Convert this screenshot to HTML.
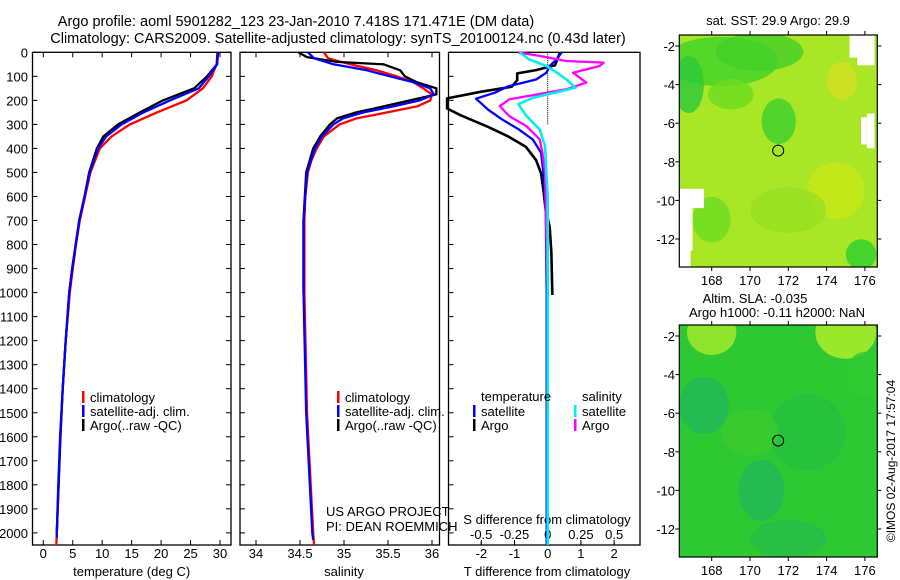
<!DOCTYPE html>
<html><head><meta charset="utf-8"><style>
body{margin:0;background:#fff;}
svg{display:block;font-family:"Liberation Sans",sans-serif;font-size:13px;}
</style></head><body>
<svg id="fig" width="900" height="580" viewBox="0 0 900 580" xmlns="http://www.w3.org/2000/svg">
<text x="296" y="26" text-anchor="middle" style="font-size:14.5px">Argo profile: aoml 5901282_123 23-Jan-2010 7.418S 171.471E (DM data)</text>
<text x="338" y="43" text-anchor="middle" style="font-size:14.5px">Climatology: CARS2009. Satellite-adjusted climatology: synTS_20100124.nc (0.43d later)</text>
<g id="maps"></g>
<g id="plots"></g>
</svg>
<script>
// ---------- data ----------
const depthTicks=[0,100,200,300,400,500,600,700,800,900,1000,1100,1200,1300,1400,1500,1600,1700,1800,1900,2000];
const tempTicks=[0,5,10,15,20,25,30];
const salTicks=[34,34.5,35,35.5,36];
const tdTicks=[-2,-1,0,1,2];
const sdTicks=[-0.5,-0.25,0,0.25,0.5];
const sdTickLabels=["-0.5","-0.25","0","0.25","0.5"];
// temperature
const tClimDepth=[0,50,100,150,200,250,300,350,400,500,600,700,800,900,1000,1200,1400,1600,1800,2000,2050];
const tClim=[29.6,29.4,28.6,27.1,24.3,19.3,14.7,11.6,9.6,8.0,7.1,6.2,5.55,5.0,4.5,3.8,3.3,2.9,2.6,2.3,2.2];
const tArgoDepth=[0,50,100,150,200,250,300,350,400,500,600,700,800,900,1000,1200,1400,1600,1800,2000];
const tArgo=[29.6,29.5,27.8,25.6,20.3,16.4,12.7,10.2,9.1,7.8,7.0,6.1,5.5,4.9,4.4,3.8,3.3,2.9,2.6,2.3];
const tSatDepth=[0,50,100,150,200,250,300,350,400,500,600,700,800,900,1000,1200,1400,1600,1800,2000,2020];
const tSat=[29.7,29.5,28.1,26.4,21.5,17.0,13.3,10.7,9.3,7.9,7.0,6.1,5.5,4.9,4.4,3.8,3.3,2.85,2.55,2.3,2.3];
// salinity
const sClimDepth=[0,25,50,75,100,125,150,175,200,225,250,275,300,350,400,450,500,600,700,1000,1500,2000,2050];
const sClim=[34.77,34.82,35.07,35.37,35.6,35.79,35.9,36.0,35.98,35.83,35.49,35.14,34.95,34.77,34.69,34.63,34.59,34.56,34.55,34.55,34.58,34.65,34.66];
const sArgoDepth=[0,20,40,50,75,100,125,150,175,200,225,250,275,300,350,400,500,700,1000];
const sArgo=[34.48,34.58,34.92,35.45,35.64,35.69,35.83,36.05,36.05,35.75,35.45,35.14,34.92,34.84,34.73,34.65,34.57,34.54,34.54];
const sSatDepth=[0,25,50,75,100,125,150,175,200,225,250,275,300,350,400,500,700,1000,1500,2000,2030];
const sSat=[34.59,34.66,34.88,35.26,35.52,35.79,35.98,36.02,35.86,35.56,35.22,34.99,34.88,34.75,34.67,34.58,34.54,34.54,34.57,34.64,34.65];
// T differences
const tdArgoDepth=[1,54,74,88,116,143,164,192,234,262,310,351,393,449,504,574,657,726,837,1003,1010];
const tdArgo=[0.37,0.22,-0.35,-0.92,-0.92,-1.08,-2.0,-3.03,-3.03,-2.62,-1.8,-1.18,-0.66,-0.35,-0.2,-0.13,-0.06,0.06,0.11,0.14,0.14];
const tdSatDepth=[1,29,57,85,113,141,168,193,238,279,321,363,418,501,640,1000,2050];
const tdSat=[0.42,0.27,0.06,-0.04,-0.35,-1.18,-1.59,-2.16,-1.8,-1.38,-0.87,-0.45,-0.2,-0.13,-0.06,-0.03,-0.03];
// S differences
const sdArgoDepth=[1,15,36,43,57,85,126,154,196,224,265,307,362,418,501,1000,2050];
const sdArgo=[-0.22,-0.06,0.14,0.42,0.39,0.19,0.29,0.14,-0.29,-0.36,-0.29,-0.16,-0.06,-0.04,-0.02,0.0,0.0];
const sdSatDepth=[1,29,57,85,113,147,161,189,216,265,321,390,600,2050];
const sdSat=[-0.21,-0.14,-0.01,0.07,0.14,0.21,0.11,-0.11,-0.22,-0.16,-0.06,-0.02,0.0,0.0];
// map axes
const lonTicks=[168,170,172,174,176];
const latTicks=[-2,-4,-6,-8,-10,-12];
const argoLon=171.471, argoLat=-7.418;

// ---------- helpers ----------
const NS="http://www.w3.org/2000/svg";
function mk(tag,attrs,parent){const e=document.createElementNS(NS,tag);for(const k in attrs)e.setAttribute(k,attrs[k]);parent.appendChild(e);return e;}
const plots=document.getElementById('plots');
const maps=document.getElementById('maps');
const Y=d=>52.3+d*0.2403;
const panels=[
 {x0:32.5,x1:231,f:v=>43.3+v*5.89,ticks:tempTicks,labels:tempTicks.map(String),title:"temperature (deg C)",name:"temperature-panel"},
 {x0:240,x1:439.5,f:v=>256+(v-34)*88,ticks:salTicks,labels:salTicks.map(String),title:"salinity",name:"salinity-panel"},
 {x0:448.5,x1:640,f:v=>547.7+v*33.2,ticks:tdTicks,labels:tdTicks.map(String),title:"T difference from climatology",name:"difference-panel"}
];
const SD=v=>547.7+v*133;
const yb=545;
panels.forEach((p,i)=>{
  const g=mk('g',{},plots);
  
  
  const r=mk('rect',{x:p.x0,y:Y(0),width:p.x1-p.x0,height:yb-Y(0),fill:'none',stroke:'#000','stroke-width':1.3},g);
  
  
  p.ticks.forEach((t,j)=>{
    const x=p.f(t);
    mk('line',{x1:x,x2:x,y1:yb,y2:yb-5,stroke:'#000'},g);
    if(i<2) mk('line',{x1:x,x2:x,y1:Y(0),y2:Y(0)+5,stroke:'#000'},g);
    const tx=mk('text',{x:x,y:558,'text-anchor':'middle'},g);
    tx.textContent=p.labels[j];
    
    
  });
  const ti=mk('text',{x:(i==2?547:p.f(i==0?15:35)),y:576,'text-anchor':'middle'},g);
  ti.textContent=p.title;
  
  
  depthTicks.forEach(d=>{
    mk('line',{x1:p.x0,x2:p.x0+5,y1:Y(d),y2:Y(d),stroke:'#000'},g);
    if(i==0) mk('line',{x1:p.x1,x2:p.x1-5,y1:Y(d),y2:Y(d),stroke:'#000'},g);
  });
});
depthTicks.forEach(d=>{
  const t=mk('text',{x:28,y:Y(d)+5,'text-anchor':'end'},plots);
  t.textContent=String(d);
  
  
});
// S diff axis
sdTicks.forEach((s,j)=>{
  mk('line',{x1:SD(s),x2:SD(s),y1:yb,y2:yb-3,stroke:'#000'},plots);
  const t=mk('text',{x:SD(s),y:539,'text-anchor':'middle'},plots);
  t.textContent=sdTickLabels[j];
  
  
});
const sdt=mk('text',{x:547,y:524,'text-anchor':'middle'},plots);
sdt.textContent="S difference from climatology";


// zero dotted line
for(let d=0;d<300;d+=8){mk('line',{x1:547.7,x2:547.7,y1:Y(0)+d*0.24,y2:Y(0)+d*0.24+1,stroke:'#000'},plots);}
function series(depths,vals,fx,color,name,w){
  const pts=depths.map((d,k)=>fx(vals[k]).toFixed(1)+','+Y(d).toFixed(1)).join(' ');
  const pl=mk('polyline',{points:pts,fill:'none',stroke:color,'stroke-width':w||2.3,'stroke-linejoin':'round'},plots);
  
  
}
const fT=panels[0].f,fS=panels[1].f,fD=panels[2].f;
series(tClimDepth,tClim,fT,'#f00','temperature-climatology-line');
series(tArgoDepth,tArgo,fT,'#000','temperature-argo-line');
series(tSatDepth,tSat,fT,'#00f','temperature-satellite-line');
series(sClimDepth,sClim,fS,'#f00','salinity-climatology-line');
series(sArgoDepth,sArgo,fS,'#000','salinity-argo-line');
series(sSatDepth,sSat,fS,'#00f','salinity-satellite-line');
series(tdArgoDepth,tdArgo,fD,'#000','t-diff-argo-line',2.6);
series(tdSatDepth,tdSat,fD,'#00f','t-diff-satellite-line');
series(sdArgoDepth,sdArgo,SD,'#f0f','s-diff-argo-line');
series(sdSatDepth,sdSat,SD,'#0ee','s-diff-satellite-line',2.6);
// legends
function legend(x,y,color,label,name){
  const b=mk('rect',{x:x,y:y-11,width:2.5,height:12,fill:color},plots);
  
  
  const t=mk('text',{x:x+8,y:y},plots);
  t.textContent=label;
  
  
}
[[82,'temp'],[337,'sal']].forEach(([lx,n])=>{
  legend(lx,402,'#f00','climatology',n+'-legend-climatology');
  legend(lx,416,'#00f','satellite-adj. clim.',n+'-legend-satellite');
  legend(lx,430,'#000','Argo(..raw -QC)',n+'-legend-argo');
});
const lt=mk('text',{x:481,y:401},plots);lt.textContent='temperature';


const ls=mk('text',{x:582,y:401},plots);ls.textContent='salinity';


legend(473,416,'#00f','satellite','legend-t-satellite');
legend(473,430,'#000','Argo','legend-t-argo');
legend(574,416,'#0ee','satellite','legend-s-satellite');
legend(574,430,'#f0f','Argo','legend-s-argo');
const c1=mk('text',{x:326,y:516},plots);c1.textContent='US ARGO PROJECT';


const c2=mk('text',{x:326,y:531},plots);c2.textContent='PI: DEAN ROEMMICH';



// ---------- maps ----------
const MX=lon=>711.7+(lon-168)*19.15;
function drawMap(top,name,title1,title2,kind){
  const MY=lat=>top+11+(-2-lat)*19.3;
  const g=mk('g',{},maps);
  
  
  const x0=679.3,x1=877.3,y0=top,y1=top+232;
  const defs=mk('defs',{},g);
  const clip=mk('clipPath',{id:'c'+kind},defs);
  mk('rect',{x:x0,y:y0,width:x1-x0,height:y1-y0},clip);
  const inner=mk('g',{'clip-path':'url(#c'+kind+')'},g);
  if(kind=='sst'){
    mk('rect',{x:x0,y:y0,width:x1-x0,height:y1-y0,fill:'#a8e626'},inner);
    const blobs=[[168.5,-2.8,3,1.3,'#3dd42a'],[166.8,-4,0.8,1.5,'#2cc83a'],[170.5,-2.3,2.3,1,'#44d028'],[171.5,-5.9,0.9,1.2,'#3cd030'],[169,-4.5,1.2,0.8,'#6cdc22'],[174.5,-9.5,1.5,1.5,'#c8e818'],[174.8,-3.8,0.8,1,'#d4e020'],[175.8,-12.8,0.8,0.8,'#2cd030'],[168,-11,1,1.2,'#6cdc22'],[172,-10.5,2,1.2,'#96e024']];
    blobs.forEach(b=>{mk('ellipse',{cx:MX(b[0]),cy:MY(b[1]),rx:b[2]*19,ry:b[3]*19,fill:b[4],opacity:0.8},inner);});
    const whites=[[175.2,-1.4,176.5,-2.6],[175.6,-1.4,176.5,-3],[176.1,-5.5,176.5,-7.3],[175.8,-5.7,176.1,-7.1],[166.3,-9.4,167.6,-10.4],[166.3,-9.4,166.9,-13.5],[166.3,-10.4,167.0,-12.6]];
    whites.forEach(w=>{mk('rect',{x:MX(w[0]),y:MY(w[1]),width:MX(w[2])-MX(w[0]),height:MY(w[3])-MY(w[1]),fill:'#fff'},inner);});
  } else {
    mk('rect',{x:x0,y:y0,width:x1-x0,height:y1-y0,fill:'#2ec832'},inner);
    const blobs=[[168,-1.8,1.3,1.2,'#a8ec2a'],[175,-1.8,1.6,1.4,'#b4f02a'],[167.6,-5.6,1.3,1.5,'#22b85a'],[170.6,-10,1.2,1.6,'#22b85a'],[172,-12.5,2,1,'#28bc48'],[173,-7,2,2,'#26c03e'],[170,-7,1.5,1.2,'#3ccc2c'],[176,-4,1,1.2,'#30cc30']];
    blobs.forEach(b=>{mk('ellipse',{cx:MX(b[0]),cy:MY(b[1]),rx:b[2]*19,ry:b[3]*19,fill:b[4],opacity:0.8},inner);});
  }
  const fr=mk('rect',{x:x0,y:y0,width:x1-x0,height:y1-y0,fill:'none',stroke:'#000','stroke-width':1.2},g);
  
  
  lonTicks.forEach(l=>{
    mk('line',{x1:MX(l),x2:MX(l),y1:y0,y2:y0-4,stroke:'#000'},g);
    mk('line',{x1:MX(l),x2:MX(l),y1:y1,y2:y1+4,stroke:'#000'},g);
    const t=mk('text',{x:MX(l),y:y1+18,'text-anchor':'middle'},g);
    t.textContent=String(l);
    
    
  });
  latTicks.forEach(l=>{
    mk('line',{x1:x0,x2:x0-4,y1:MY(l),y2:MY(l),stroke:'#000'},g);
    mk('line',{x1:x1,x2:x1+4,y1:MY(l),y2:MY(l),stroke:'#000'},g);
    const t=mk('text',{x:675,y:MY(l)+5,'text-anchor':'end'},g);
    t.textContent=String(l);
    
    
  });
  const c=mk('circle',{cx:MX(argoLon),cy:MY(argoLat),r:5.5,fill:'none',stroke:'#000','stroke-width':1},g);
  
  
  const t1=mk('text',{x:title2?755:778,y:top-(title2?22:10),'text-anchor':'middle',style:'font-size:13px'},g);
  t1.textContent=title1;
  
  
  if(title2){
    const t2=mk('text',{x:777,y:top-8,'text-anchor':'middle',style:'font-size:13px'},g);
    t2.textContent=title2;
    
    
  }
}
drawMap(35,'sst-map','sat. SST: 29.9 Argo: 29.9',null,'sst');
drawMap(325,'sla-map','Altim. SLA: -0.035','Argo h1000: -0.11 h2000: NaN','sla');
const st=mk('text',{x:0,y:0,'text-anchor':'middle',transform:'translate(895,461) rotate(-90)',style:'font-size:12px'},maps);
st.textContent='©IMOS 02-Aug-2017 17:57:04';


</script>
</body></html>
